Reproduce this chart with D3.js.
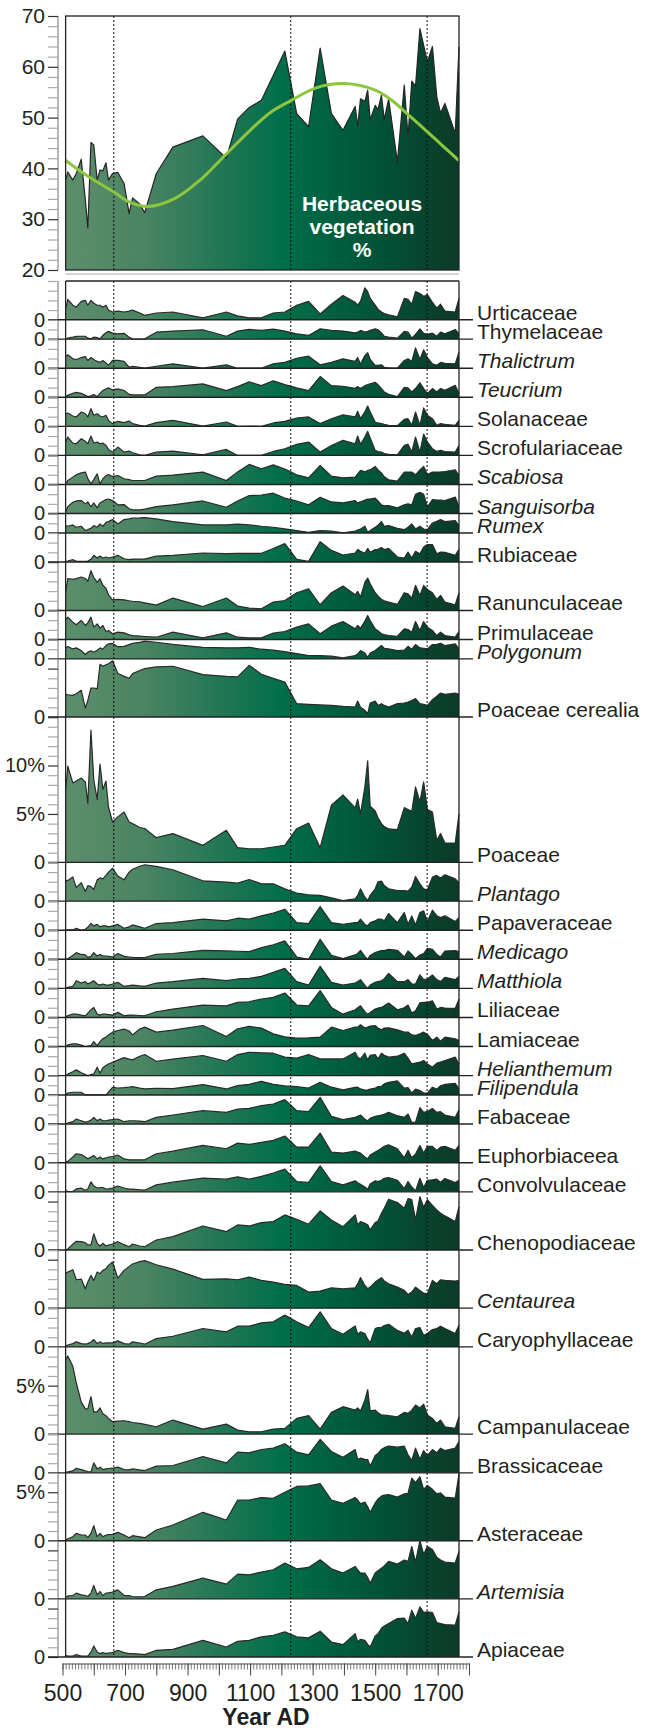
<!DOCTYPE html>
<html>
<head>
<meta charset="utf-8">
<script src="https://cdn.jsdelivr.net/npm/d3@7"></script>
<style>
  body { margin: 0; background: #fff; }
  svg { display: block; font-family: "Liberation Sans", Arial, sans-serif; }
</style>
</head>
<body>
<div class="chart"></div>
<script>
// Herbaceous pollen diagram, 500-1800 AD
var svgWidth = 653;
var svgHeight = 1731;

// sample years (shared by all curves)
var years = [510,517,533,544,560,573,581,591,600,611, 620,629,639,647,660,677,697,713,724,747,
  763,800,853,949,1024,1060,1097,1136,1174,1211, 1249,1287,1324,1360,1397,1436,1444,1453,1467,1476,
  1484,1500,1509,1520,1529,1543,1571,1593,1605,1617, 1629,1643,1655,1667,1683,1697,1709,1723,1756,1768];

// total herbaceous vegetation %
var herbaceous = [37.7,39.3,37.7,39.0,41.8,33.8,28.3,45.1,44.6,37.7, 39.7,39.5,41.1,37.7,39.0,39.2,37.0,31.1,34.2,33.0,
  31.3,39.0,44.2,46.4,42.0,49.7,52.0,53.4,58.3,63.1, 50.8,48.2,63.7,50.8,47.5,52.2,48.3,53.7,53.2,55.4,
  49.6,52.4,51.6,54.4,49.6,53.7,41.3,56.4,46.2,57.2, 56.2,67.5,64.2,61.0,64.0,54.1,50.9,52.8,46.9,63.9];

// smooth trend curve
var trendYears = [509,580,663,713,773,860,940,1020,1100,1167,1229,1313,1404,1500,1553,1607,1667,1713,1767];
var trendValues = [41.6,38.5,35.4,33.4,32.5,34.1,37.7,42.6,47.5,51.1,53.3,55.9,56.7,55.4,53.4,50.5,47.2,44.6,41.6];

// zone boundaries
var phaseYears = [664, 1230, 1666];

// x axis labels
var xLabelYears = [500, 700, 900, 1100, 1300, 1500, 1700];

// individual taxa, % values
var urticaceae = [1.1,2.1,1.5,1.3,1.9,2.0,1.5,2.0,1.7,1.5, 1.5,1.3,1.5,1.0,0.8,0.9,0.8,0.9,1.0,0.7, 0.45,0.7,0.8,0.2,0.8,0.4,0.2,0.2,0.7,0.8, 1.5,1.9,0.6,1.6,2.5,1.8,1.5,1.9,3.3,2.9, 2.2,1.5,1.1,0.8,0.65,0.5,0.3,2.2,2.1,1.6, 2.9,2.7,2.4,2.6,1.8,1.2,1.6,0.9,0.8,2.2];
var thymelaceae = [0,0.1,0.2,0.28,0.3,0.3,0.1,0.03,0.2,0.17, 0.03,0.4,0.65,0.8,0.62,0.55,0.6,0.2,0.03,0, 0.03,0.72,0.83,0.97,0.3,0.83,1.0,0.9,1.03,0.83, 0.55,0.38,1.07,0.9,0.83,0.65,0.72,0.9,0.72,0.8, 0.9,1.07,0.97,0.65,0.3,0.2,0.1,0.8,0.72,0.1, 0.5,1.05,0.6,0.5,0.62,0.3,0.72,0.55,1.0,0.55];
var thalictrum = [1.24,1.38,0.97,0.9,1.1,1.2,0.8,1.1,0.9,0.7, 0.6,0.8,0.55,0.3,0.8,0.8,0.7,0.1,0.2,0.1, 0,0.2,0.45,0,0.35,0,0,0,0.45,0.6, 1.03,1.24,0.35,0.6,0.97,0.7,1.1,0.4,1.3,1.6, 0.9,0.3,0.3,0.35,0.1,0.05,0,0.8,0.97,0.7, 2.1,0.9,1.9,1.1,0.45,0.3,0.6,0.5,0.45,1.65];
var teucrium = [0.07,0.2,0.4,0.5,0.4,0.2,0.07,0.15,0.28,0.07, 0.4,0.7,0.86,0.97,0.76,0.86,0.7,0.3,0.24,0.24, 0.24,1.03,1.1,1.38,0.69,1.1,1.6,1.2,1.7,1.3, 0.97,0.69,2.14,1.2,1.14,0.93,1.1,0.9,1.2,1.3, 1.4,1.55,1.3,0.9,0.55,0.3,0.07,1.03,0.97,0.55, 0.9,1.5,0.9,0.4,0.9,0.55,0.9,0.72,1.24,0.4];
var solanaceae = [1.3,1.38,1.07,0.97,1.48,1.3,0.97,1.83,1.14,1.3, 1.07,0.97,1.14,0.62,0.28,0.52,0.38,0.55,0.28,0.1, 0.03,0.38,0.62,0.03,0.45,0,0.03,0,0.35,0.52, 0.86,0.97,0.28,0.79,1.2,0.97,1.55,0.79,1.5,2.1, 1.48,0.45,0.35,0.28,0.2,0.1,0.07,0.72,0.79,0.1, 1.48,0.1,1.9,1.14,0.79,0.1,0.28,0.2,0.1,0.62];
var scrofulariaceae = [1.38,1.9,1.28,1.2,1.72,1.45,1.2,2.0,1.28,1.38, 1.2,1.28,1.03,0.62,0.34,0.86,0.34,0.45,0.28,0.07, 0,0.34,0.45,0.07,0.62,0,0,0,0.41,0.69, 1.14,1.38,0.34,1.03,1.55,1.2,2.0,1.14,1.9,2.48, 1.8,0.52,0.4,0.34,0.2,0.1,0.07,1.03,1.14,0.34, 1.9,0.34,2.2,1.38,0.69,0.41,0.52,0.4,0.34,1.03];
var scabiosa = [0.07,0.4,0.76,1.0,1.2,1.28,0.6,0.07,0.5,1.1, 0.07,0.6,0.9,1.03,0.83,0.93,0.59,0.5,0.41,0.41, 0.41,0.86,0.97,1.28,0.41,1.3,2.07,1.62,2.03,1.6, 1.0,0.69,1.97,0.86,0.69,0.76,1.1,1.45,1.3,1.45, 1.5,1.86,1.5,1.2,0.8,0.48,0.34,1.28,1.28,1.28, 1.0,1.5,1.86,1.03,1.28,1.28,1.3,1.34,1.52,0.93];
var sanguisorba = [0.2,0.72,1.17,1.3,1.34,1.0,1.2,0.7,1.1,0.59, 1.1,1.28,1.45,1.5,1.34,0.9,0.93,0.5,0.38,0.38, 0.45,0.72,0.9,1.3,0.65,1.3,1.86,1.9,2.1,1.6, 1.3,0.9,1.69,1.2,1.1,1.34,1.1,1.2,1.4,1.5, 1.5,1.6,1.3,0.9,0.8,0.83,0.6,0.9,1.0,0.9, 2.0,2.2,2.0,0.7,1.45,1.4,1.4,1.35,1.7,0.7];
var rumex = [0.76,0.69,0.83,0.59,0.69,0.24,0.34,0.48,0.76,0.59, 0.93,0.69,1.1,1.17,1.38,0.93,1.38,1.45,1.52,1.55, 1.59,1.45,1.17,0.83,0.83,0.9,0.83,0.69,0.59,0.41, 0.24,0.07,0.24,0.2,0,0.2,0.3,0.41,0.69,0.07, 0.24,0.59,0.8,1.17,0.69,0.76,0.48,0.34,0.6,0.93, 0.41,0.7,0.41,0.34,1.03,1.2,1.38,1.17,1.28,0.76];
var rubiaceae = [0.07,0.1,0.24,0.1,0.07,0.07,0.1,0.28,0.69,0.41, 0.62,0.41,0.52,0.41,0.52,0.69,0.34,0.24,0.3,0.3, 0.3,0.6,0.69,0.93,0.86,0.9,0.9,0.9,1.4,1.9, 0.28,0.07,2.1,1.2,0.72,0.93,1.28,1.1,0.9,1.4, 1.0,1.28,1.31,1.5,1.28,1.4,0.52,0.41,1.03,0.41, 1.1,0.86,1.55,1.8,1.8,0.86,1.03,1.0,0.7,1.3];
var ranunculaceae = [1.9,3.3,3.2,3.28,3.45,3.3,3.0,4.1,3.4,2.9, 3.28,2.6,2.3,1.6,1.1,1.14,1.1,1.0,0.95,0.9, 0.79,0.55,1.28,0.41,1.28,0.45,0.24,0.17,0.86,1.03, 1.83,2.24,0.59,1.83,2.52,1.62,1.97,1.38,2.9,3.34, 2.76,1.83,1.5,1.14,1.0,0.86,0.62,1.83,1.72,1.28, 2.59,1.55,2.59,2.17,1.83,1.14,1.55,0.86,0.59,1.83];
var primulaceae = [2.1,2.3,1.79,1.52,1.97,1.45,1.72,2.31,1.28,1.62, 1.17,1.45,0.83,0.93,0.59,0.76,0.69,0.48,0.41,0.35, 0.31,0.24,0.76,0.17,0.69,0.24,0.17,0.17,0.66,0.83, 1.28,1.62,0.59,1.38,1.86,1.1,1.45,1.17,1.9,2.48, 1.97,1.1,0.9,0.59,0.5,0.41,0.34,1.1,1.03,0.76, 1.86,0.93,1.86,1.28,0.93,0.41,0.76,0.41,0.24,0.83];
var polygonum = [1.14,1.28,1.03,1.14,0.86,0.45,0.7,0.85,0.69,0.9, 1.14,1.0,1.38,1.55,1.6,1.25,1.3,1.48,1.6,1.7, 1.83,1.72,1.5,1.2,1.14,1.14,1.2,1.0,0.9,0.75, 0.55,0.34,0.34,0.28,0.1,0.34,0.5,0.86,0.6,0.17, 0.6,0.86,1.1,1.38,1.1,1.03,0.86,0.9,1.3,1.0, 1.48,1.14,1.1,1.03,1.48,1.5,1.62,1.38,1.55,1.03];
var poaceaeCerealia = [2.34,2.3,2.24,2.41,2.76,0.93,1.72,3.0,3.0,2.9, 5.45,5.24,5.4,5.5,5.8,4.5,4.2,4.0,4.48,4.8, 5.0,5.17,5.24,4.38,4.2,4.14,5.34,4.41,4.0,3.62, 1.38,1.31,1.25,1.2,1.1,1.03,1.65,1.0,0.69,0.34, 1.45,1.65,1.2,1.38,1.2,1.03,1.38,1.45,1.55,1.7, 1.9,1.38,1.3,1.2,1.79,2.14,2.48,2.34,2.48,2.34];
var poaceae = [7.45,9.93,8.2,8.4,8.7,8.3,6.1,13.65,8.5,6.5, 10.14,7.52,8.4,5.72,4.17,4.7,5.2,4.17,4.0,3.6, 3.5,2.55,2.97,1.76,3.31,1.52,1.41,1.41,1.59,1.76, 3.48,4.07,1.52,5.9,6.97,5.62,6.52,5.0,7.8,10.48, 5.8,5.3,4.6,4.0,3.7,3.45,3.38,5.66,5.45,5.28, 7.79,6.24,8.3,5.45,5.2,2.28,2.97,2.0,2.0,5.0];
var plantago = [2.1,2.14,2.5,1.4,1.9,1.0,1.6,1.5,1.2,2.2, 2.4,2.3,2.66,3.0,3.4,2.6,2.2,3.0,3.3,3.6, 3.76,3.59,3.24,2.1,1.97,1.86,2.24,1.79,1.79,1.28, 0.83,0.66,0.6,0.34,0.07,0.24,0.59,1.28,0.41,0.07, 0.6,1.28,2.0,2.07,1.62,1.28,1.1,1.1,1.03,1.45, 2.55,1.79,1.28,1.17,2.48,2.66,2.4,2.72,2.3,1.9];
var papaveraceae = [0,0.03,0.03,0.2,0,0.1,0.3,0.7,0.45,0.6, 0.35,0.45,0.45,0.35,0.45,0.6,0.2,0.35,0.55,0.35, 0.2,0.69,0.79,1.14,0.97,1.24,1.14,1.48,1.76,2.17, 0.79,0.69,2.45,0.79,0.62,0.79,0.79,1.14,0.6,0.45, 0.79,0.97,1.14,1.14,0.97,1.72,0.79,1.83,0.62,1.48, 0.55,1.83,2.0,0.9,2.07,1.5,1.31,1.48,0.9,1.3];
var medicago = [0,0.05,0.4,0.69,0.5,0.45,0.2,0.3,0.69,0.34, 0.5,0.35,0.34,0.3,0.24,0.6,0.3,0.24,0.2,0.17, 0.17,0.52,0.6,0.93,0.86,0.83,0.79,1.2,1.5,1.9, 0.24,0,2.07,0.4,0.07,0.45,0.6,0.93,0.3,0, 0.4,0.69,0.8,0.9,0.9,1.03,0.93,0.24,0.86,0.5, 0.07,0.45,0.59,1.14,1.03,0.5,0.24,0.85,0.9,0.79];
var matthiola = [0,0.1,0.2,0.79,0.55,0.69,0.45,0.62,0.79,0.45, 0.34,0.45,0.34,0.34,0.45,0.62,0.2,0.28,0.34,0.25, 0.2,0.55,0.69,1.03,0.79,0.97,1.03,1.24,1.66,2.07, 0.69,0.34,2.28,0.62,0.34,0.55,0.7,0.9,0.3,0, 0.34,0.62,0.7,0.79,1.0,1.55,0.69,0.69,0.9,0.45, 0.45,1.4,0.9,0.97,1.38,0.9,0.7,1.14,0.9,1.24];
var liliaceae = [0,0.2,0.34,0.34,0.24,0.17,0.45,0.8,1.03,0.34, 0.24,0.34,0.34,0.3,0.24,0.52,0.17,0.24,0.24,0.2, 0.17,0.59,0.86,1.28,1.2,1.55,1.62,1.9,2.07,2.52, 1.28,1.2,2.76,1.03,0.34,0.79,1.0,1.2,0.6,0.34, 0.5,0.86,0.97,1.03,1.2,1.48,0.79,1.0,1.28,0.45, 0.69,1.5,1.55,1.55,1.72,0.86,1.03,0.97,0.93,1.9];
var lamiaceae = [0,0.17,0.28,0.28,0.15,0,0.05,0.1,0.5,0.1, 0.5,0.8,0.97,1.2,1.48,1.65,1.8,1.6,1.2,1.8, 2.0,1.48,1.7,2.17,1.03,1.83,2.07,1.9,1.3,1.0, 0.86,0.9,0.97,2.0,1.65,2.0,2.0,2.24,1.9,2.0, 2.1,2.17,1.9,1.72,1.9,1.93,1.72,1.48,1.5,1.2, 1.14,1.3,1.48,1.24,0.62,0.97,0.55,0.97,0.8,0.62];
var helianthemum = [0,0.15,0.4,0.59,0.3,0.1,0,0.1,0.17,0.86, 0.24,0.8,1.03,1.2,1.38,1.6,1.85,1.7,1.62,2.0, 2.17,1.48,1.7,2.07,1.48,2.17,2.41,2.35,2.31,1.9, 1.8,2.17,1.72,1.72,1.72,2.41,1.9,1.72,2.31,1.62, 2.1,2.17,1.72,2.31,2.1,1.9,2.0,2.31,1.8,1.2, 1.3,1.38,1.55,1.2,0.86,1.28,1.4,1.55,1.9,1.2];
var filipendula = [0.1,0.2,0.28,0.28,0.28,0,0,0,0,0, 0,0,0,0.3,0.79,0.72,0.75,0.8,0.86,0.7, 0.62,0.69,0.65,1.07,0.62,0.97,1.1,1.41,1.1,0.95, 0.86,0.72,1.31,0.8,0.52,0.79,0.8,0.62,0.5,0.52, 0.6,0.7,0.86,0.9,1.14,1.3,1.45,0.7,0.75,0.2, 0.6,0.45,0.2,0.2,0.8,0.6,0.95,1.1,1.2,0.62];
var fabaceae = [0,0.1,0.24,0.52,0.34,0.2,0.24,0.4,0.69,0.34, 0.52,0.34,0.34,0.4,0.45,0.52,0.24,0.34,0.34,0.3, 0.24,0.69,0.93,1.38,1.2,1.55,1.62,1.9,2.07,2.52, 1.38,1.28,2.76,0.79,0.45,0.69,0.8,0.93,0.5,0.34, 0.59,0.79,0.85,0.93,1.0,1.2,0.86,0.69,1.03,0.17, 0.2,1.7,1.2,1.3,1.6,1.2,1.28,0.93,0.69,1.48];
var euphorbiaceea = [0.1,0.15,0.6,0.93,0.85,0.6,0.41,0.6,0.76,0.4, 0.6,0.4,0.5,0.6,0.65,0.8,0.4,0.31,0.31,0.31, 0.31,0.93,1.2,1.79,1.45,2.03,1.9,2.1,2.31,2.76, 1.62,1.62,3.07,1.1,1.0,1.2,1.1,1.0,0.6,0.41, 0.8,1.1,1.28,1.5,1.7,1.86,1.45,0.52,1.28,0.52, 0.9,1.79,1.0,1.69,1.69,1.28,1.62,1.69,1.28,1.79];
var convolvulaceae = [0.1,0.05,0.03,0.3,0.4,0.17,0.3,1.03,0.6,0.4, 0.45,0.45,0.28,0.3,0.38,0.6,0.4,0.28,0.28,0.22, 0.17,0.72,1.0,1.41,1.31,1.55,1.31,1.6,1.95,2.34, 1.07,0.97,2.69,1.07,0.72,1.14,0.95,0.79,0.5,0.28, 0.8,1.14,1.07,1.2,1.4,1.48,1.2,0.34,1.07,0.5, 0.1,1.41,0.45,1.2,1.25,1.31,0.97,1.38,0.97,1.2];
var chenopodiaceae = [0,0.1,0.6,0.9,0.86,0.76,0.52,0.52,1.66,0.69, 0.41,0.69,0.41,0.52,0.62,0.86,0.55,0.34,0.62,0.41, 0.34,1.03,1.38,2.48,1.9,2.59,2.48,2.83,2.93,3.62, 3.17,2.66,4.03,3.1,2.41,3.62,2.59,2.93,2.75,2.6, 2.07,2.83,3.0,3.79,4.3,5.24,4.9,4.3,5.3,5.2, 3.1,5.5,4.4,5.2,4.6,4.14,3.79,3.52,2.93,4.48];
var centaurea = [3.55,3.72,3.97,2.93,3.0,2.0,2.69,3.38,2.86,3.72, 3.55,3.9,4.07,4.41,4.76,3.1,3.9,4.31,4.55,4.8, 4.9,4.48,4.03,2.97,3.03,2.93,3.2,2.86,2.69,2.45, 2.34,1.66,1.76,2.1,2.0,2.1,2.5,3.15,2.34,2.0, 2.17,2.69,2.9,3.15,2.8,2.52,2.17,1.83,1.41,1.66, 2.17,1.83,1.55,1.48,2.86,2.52,2.93,2.86,2.79,2.86];
var caryophyllaceae = [0.1,0.2,0.34,0.52,0.34,0.28,0.34,0.5,0.76,0.34, 0.52,0.34,0.41,0.41,0.41,0.62,0.34,0.28,0.52,0.4, 0.28,0.86,1.1,1.9,1.55,2.14,2.14,2.48,2.59,3.28, 2.59,2.0,3.62,1.9,1.31,2.17,1.31,1.55,1.38,0.8, 0.41,1.9,2.0,2.0,2.2,2.34,1.7,1.4,1.72,1.03, 1.9,2.0,1.2,1.38,1.79,1.9,2.14,1.9,1.38,2.24];
var campanulaceae = [7.65,8.07,7.0,5.3,3.3,2.6,2.6,3.86,2.3,2.3, 2.7,2.1,1.9,1.62,1.28,1.34,1.38,1.28,1.2,1.1, 1.0,0.76,1.45,0.52,1.03,0.41,0.24,0.24,0.52,0.59, 1.62,1.9,0.52,2.24,2.83,2.48,2.7,2.38,3.5,4.6, 2.4,2.48,2.2,1.97,1.95,1.9,1.79,2.24,2.14,2.48, 3.0,2.7,3.1,1.97,1.62,1.1,1.45,0.76,0.59,1.79];
var brassicaceae = [0.07,0.1,0.2,0.48,0.34,0.2,0.14,0.1,1.03,0.41, 0.59,0.34,0.41,0.45,0.48,0.59,0.34,0.31,0.41,0.3, 0.24,0.69,0.76,1.69,1.03,2.14,2.07,2.41,2.55,3.0, 2.14,1.86,3.45,2.21,1.62,2.41,1.38,1.52,1.4,1.38, 0.69,1.79,2.0,2.41,2.6,2.76,2.65,2.76,1.86,1.28, 2.55,1.4,2.3,1.79,2.41,2.07,2.55,2.31,2.55,3.24];
var asteraceae = [0.07,0.2,0.41,0.76,0.59,0.59,0.31,0.76,1.55,0.41, 0.76,0.41,0.59,0.62,0.65,0.86,0.59,0.31,0.52,0.4, 0.31,1.1,1.62,2.93,2.14,4.2,4.2,4.45,4.38,5.0, 5.6,5.65,5.9,4.2,3.86,4.45,4.2,3.8,4.0,3.5, 2.93,3.9,4.3,4.6,4.7,4.76,4.5,4.83,4.9,6.45, 6.0,6.6,5.3,5.7,5.3,4.83,4.93,4.5,4.4,6.9];
var artemisia = [0.14,0.3,0.34,0.59,0.41,0.34,0.24,0.6,1.38,0.41, 0.76,0.34,0.59,0.62,0.69,0.93,0.34,0.34,0.24,0.2, 0.24,0.93,1.28,2.14,1.52,2.55,2.48,2.76,3.0,3.69, 3.1,3.24,4.03,3.1,2.66,3.34,3.0,2.66,2.66,2.2, 1.62,2.66,2.9,3.17,3.4,3.86,3.59,4.0,3.86,5.4, 3.8,6.0,4.6,5.4,5.1,4.3,4.0,3.8,3.7,4.9];
var apiaceae = [0.17,0.1,0.1,0.24,0.1,0.1,0.1,0.5,1.14,0.52, 0.34,0.45,0.34,0.4,0.45,0.69,0.45,0.34,0.34,0.3, 0.24,0.69,0.79,1.72,1.03,1.62,1.72,2.07,2.24,2.59, 2.07,1.97,2.66,1.55,1.28,2.41,1.55,1.83,1.72,1.3, 1.03,2.17,2.4,2.97,3.2,3.45,3.97,4.0,3.45,4.83, 3.97,5.17,4.6,4.66,4.59,3.55,3.45,3.34,3.28,4.66];

var taxonNames = ["Urticaceae","Thymelaceae","Thalictrum","Teucrium","Solanaceae","Scrofulariaceae",
  "Scabiosa","Sanguisorba","Rumex","Rubiaceae","Ranunculaceae","Primulaceae","Polygonum",
  "Poaceae cerealia","Poaceae","Plantago","Papaveraceae","Medicago","Matthiola","Liliaceae",
  "Lamiaceae","Helianthemum","Filipendula","Fabaceae","Euphorbiaceea","Convolvulaceae",
  "Chenopodiaceae","Centaurea","Caryophyllaceae","Campanulaceae","Brassicaceae","Asteraceae",
  "Artemisia","Apiaceae"];
// axis maximum (%) of each panel
var panelMax = [4,2,3,3,3,3,3,3,2,3,5,3,2,6,15,4,3,3,3,3,3,3,2,3,4,3,6,6,4,9,4,7,6,6];
var italicNames = ["Thalictrum","Teucrium","Scabiosa","Sanguisorba","Rumex","Polygonum","Plantago",
  "Medicago","Matthiola","Helianthemum","Filipendula","Centaurea","Artemisia"];
var taxonValues = [urticaceae,thymelaceae,thalictrum,teucrium,solanaceae,scrofulariaceae,
  scabiosa,sanguisorba,rumex,rubiaceae,ranunculaceae,primulaceae,polygonum,
  poaceaeCerealia,poaceae,plantago,papaveraceae,medicago,matthiola,liliaceae,
  lamiaceae,helianthemum,filipendula,fabaceae,euphorbiaceea,convolvulaceae,
  chenopodiaceae,centaurea,caryophyllaceae,campanulaceae,brassicaceae,asteraceae,
  artemisia,apiaceae];

var taxa = taxonNames.map(function(name, i) {
  return { name: name, max: panelMax[i], italic: italicNames.indexOf(name) >= 0, values: taxonValues[i] };
});

var ink = "#231f20";
var svg = d3.select(".chart").append("svg")
  .attr("width", svgWidth)
  .attr("height", svgHeight);

var x = d3.scaleLinear().domain([500, 1800]).range([62.5, 469]);
var plotLeft = x(years[0]);
var plotRight = x(years[years.length - 1]);
var axisX = 58;
var pxPerPercent = 9.69;
var lowerTop = 281;

// shared horizontal gradient
var grad = svg.append("defs").append("linearGradient")
  .attr("id", "herbFill")
  .attr("gradientUnits", "userSpaceOnUse")
  .attr("x1", plotLeft).attr("x2", plotRight)
  .attr("y1", 0).attr("y2", 0);
[[0, "#5d8e6c"], [0.2, "#4a8462"], [0.42, "#1d7553"], [0.55, "#006e4a"],
 [0.75, "#00583b"], [1, "#0b3a28"]].forEach(function(s) {
  grad.append("stop").attr("offset", s[0]).attr("stop-color", s[1]);
});

// ---------- top panel ----------
var yTop = d3.scaleLinear().domain([20, 70]).range([270, 16]);
var topG = svg.append("g");

topG.append("line")
  .attr("x1", plotLeft).attr("x2", plotRight)
  .attr("y1", 274).attr("y2", 274)
  .attr("stroke", "#d4d4d4").attr("stroke-width", 2);

topG.append("path")
  .datum(herbaceous)
  .attr("d", d3.area()
    .x(function(d, i) { return x(years[i]); })
    .y0(yTop(20))
    .y1(function(d) { return yTop(d); }))
  .attr("fill", "url(#herbFill)");

topG.append("path")
  .datum(herbaceous)
  .attr("d", d3.line()
    .x(function(d, i) { return x(years[i]); })
    .y(function(d) { return yTop(d); }))
  .attr("fill", "none")
  .attr("stroke", "#262626")
  .attr("stroke-width", 1.2)
  .attr("stroke-linejoin", "round");

phaseYears.forEach(function(yr) {
  topG.append("line")
    .attr("x1", x(yr)).attr("x2", x(yr))
    .attr("y1", yTop(70)).attr("y2", yTop(20))
    .attr("stroke", "#111").attr("stroke-width", 1)
    .attr("stroke-dasharray", "2,2");
});

topG.append("path")
  .datum(trendValues)
  .attr("d", d3.line()
    .curve(d3.curveCatmullRom)
    .x(function(d, i) { return x(trendYears[i]); })
    .y(function(d) { return yTop(d); }))
  .attr("fill", "none")
  .attr("stroke", "#8cc63f")
  .attr("stroke-width", 3);

["Herbaceous", "vegetation", "%"].forEach(function(t, i) {
  topG.append("text")
    .attr("x", 362).attr("y", 211 + i * 23)
    .attr("text-anchor", "middle")
    .attr("fill", "#fff")
    .attr("font-weight", "bold")
    .attr("font-size", "21px")
    .text(t);
});

topG.append("rect")
  .attr("x", plotLeft).attr("y", yTop(70))
  .attr("width", plotRight - plotLeft).attr("height", yTop(20) - yTop(70))
  .attr("fill", "none").attr("stroke", "#222").attr("stroke-width", 1.3);

// top y axis
topG.append("line")
  .attr("x1", axisX).attr("x2", axisX)
  .attr("y1", yTop(70)).attr("y2", yTop(20))
  .attr("stroke", "#b8b8b8").attr("stroke-width", 2);

var topAxis = topG.append("g")
  .attr("transform", "translate(" + axisX + ",0)")
  .call(d3.axisLeft(yTop)
    .tickValues(d3.range(20, 71, 2))
    .tickSize(10)
    .tickPadding(3)
    .tickFormat(function(d) { return d % 10 === 0 ? d : ""; }));
topAxis.select(".domain").remove();
topAxis.selectAll(".tick line")
  .attr("stroke", function(d) { return d % 10 === 0 ? "#333" : "#aaa"; })
  .attr("stroke-width", 1.2);
topAxis.selectAll(".tick text")
  .attr("fill", ink).attr("font-size", "21px")
  .attr("font-family", "Liberation Sans, Arial, sans-serif");

// ---------- lower panels ----------
var lowerG = svg.append("g");
var panelTop = lowerTop;
var lowerBottom = lowerTop + d3.sum(panelMax) * pxPerPercent;

lowerG.append("line")
  .attr("x1", axisX).attr("x2", axisX)
  .attr("y1", lowerTop).attr("y2", lowerBottom)
  .attr("stroke", "#b8b8b8").attr("stroke-width", 2);

taxa.forEach(function(t) {
  var base = panelTop + t.max * pxPerPercent;
  var y = d3.scaleLinear().domain([0, t.max]).range([base, panelTop]);
  var g = lowerG.append("g");

  g.append("path")
    .datum(t.values)
    .attr("d", d3.area()
      .x(function(d, i) { return x(years[i]); })
      .y0(base)
      .y1(function(d) { return y(d); }))
    .attr("fill", "url(#herbFill)");

  g.append("path")
    .datum(t.values)
    .attr("d", d3.line()
      .x(function(d, i) { return x(years[i]); })
      .y(function(d) { return y(d); }))
    .attr("fill", "none")
    .attr("stroke", "#2a2a2a")
    .attr("stroke-width", 1.2)
    .attr("stroke-linejoin", "round");

  var ax = g.append("g")
    .attr("transform", "translate(" + axisX + ",0)")
    .call(d3.axisLeft(y)
      .tickValues(d3.range(0, t.max + 0.01, 1))
      .tickSize(10)
      .tickPadding(3)
      .tickFormat(function(d) {
        if (d === 0) return "0";
        // percent labels only inside tall panels, never at the panel top
        return (t.max >= 7 && d % 5 === 0 && d < t.max) ? d + "%" : "";
      }));
  ax.select(".domain").remove();
  ax.selectAll(".tick line")
    .attr("stroke", function(d) { return d % 5 === 0 ? "#333" : "#aaa"; })
    .attr("stroke-width", 1.2);
  ax.selectAll(".tick text")
    .attr("fill", ink).attr("font-size", "20px")
    .attr("font-family", "Liberation Sans, Arial, sans-serif");

  g.append("line")
    .attr("x1", axisX - 10).attr("x2", 473)
    .attr("y1", base).attr("y2", base)
    .attr("stroke", "#222").attr("stroke-width", 1.4);

  g.append("text")
    .attr("x", 477).attr("y", base)
    .attr("fill", ink)
    .attr("font-size", "21px")
    .attr("font-style", t.italic ? "italic" : "normal")
    .text(t.name);

  panelTop = base;
});

// frame of lower block
lowerG.append("line")
  .attr("x1", plotLeft).attr("x2", plotRight)
  .attr("y1", lowerTop).attr("y2", lowerTop)
  .attr("stroke", "#222").attr("stroke-width", 1.3);
[plotLeft, plotRight].forEach(function(px) {
  lowerG.append("line")
    .attr("x1", px).attr("x2", px)
    .attr("y1", lowerTop).attr("y2", lowerBottom)
    .attr("stroke", "#222").attr("stroke-width", 1.3);
});

phaseYears.forEach(function(yr) {
  lowerG.append("line")
    .attr("x1", x(yr)).attr("x2", x(yr))
    .attr("y1", lowerTop).attr("y2", lowerBottom)
    .attr("stroke", "#111").attr("stroke-width", 1)
    .attr("stroke-dasharray", "2,2");
});

// ---------- x axis ----------
var axisY = lowerBottom + 6.5;
var minorX = svg.append("g")
  .attr("transform", "translate(0," + axisY + ")")
  .call(d3.axisBottom(x)
    .tickValues(d3.range(500, 1801, 10))
    .tickSize(6)
    .tickSizeOuter(0)
    .tickFormat(""));
minorX.select(".domain").attr("stroke", "#8a8a8a").attr("stroke-width", 1.5);
minorX.selectAll(".tick line").attr("stroke", "#555").attr("stroke-width", 0.8);

var majorX = svg.append("g")
  .attr("transform", "translate(0," + axisY + ")")
  .call(d3.axisBottom(x)
    .tickValues(d3.range(500, 1801, 100))
    .tickSize(12)
    .tickSizeOuter(0)
    .tickPadding(9)
    .tickFormat(function(d) { return xLabelYears.indexOf(d) >= 0 ? d : ""; }));
majorX.select(".domain").remove();
majorX.selectAll(".tick line").attr("stroke", "#444").attr("stroke-width", 1);
majorX.selectAll(".tick text")
  .attr("fill", ink).attr("font-size", "23px")
  .attr("font-family", "Liberation Sans, Arial, sans-serif");

svg.append("text")
  .attr("x", 266).attr("y", 1725)
  .attr("text-anchor", "middle")
  .attr("fill", ink)
  .attr("font-weight", "bold")
  .attr("font-size", "23px")
  .text("Year AD");
</script>
</body>
</html>
